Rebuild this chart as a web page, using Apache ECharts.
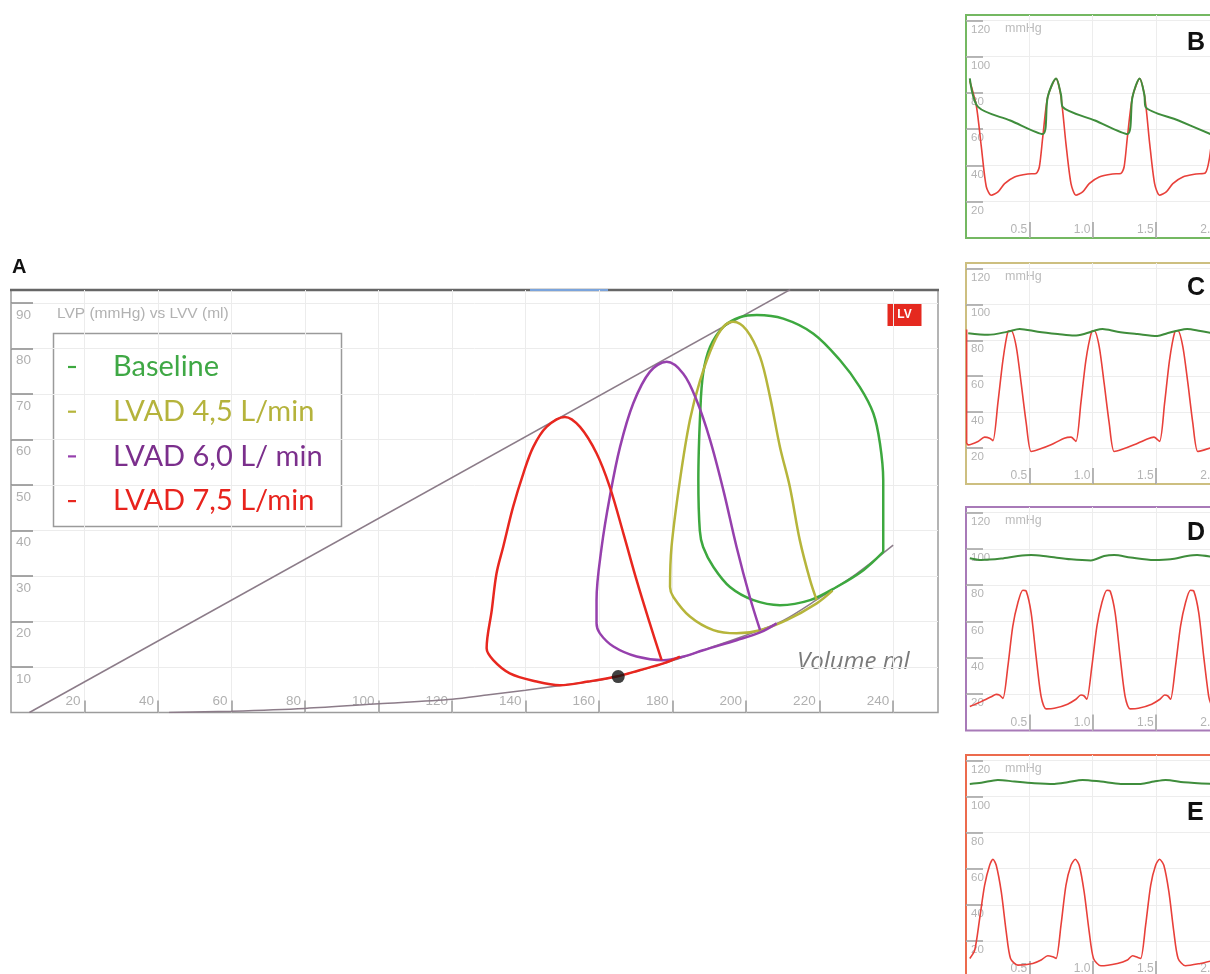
<!DOCTYPE html>
<html><head><meta charset="utf-8">
<script src="https://cdn.jsdelivr.net/npm/echarts@6/dist/echarts.min.js"></script>
<style>html,body{margin:0;padding:0;background:#fff}#c{width:1210px;height:974px}</style>
</head><body><div id="c"></div><script>
// ---------- Panel A : pressure-volume loops (volume ml, pressure mmHg) ----------
var espvr = [[5, 0], [212, 93]];
var edpvr = [[43,0],[60,0.3],[80,0.9],[100,1.9],[120,2.9],[130,3.9],[140,4.9],[150,6.0],[160,7.1],[170,9.0],[180,11.4],[190,14.2],[200,17.0],[210,20.2],[220,25.2],[230,30.5],[240,36.8]];
var loopBaseline = [[237.3,35.3],[237.3,43.8],[237.3,51.1],[236.4,59.2],[234.6,65.8],[230.9,71.6],[225.5,77.5],[218.3,83.3],[210.1,86.6],[202.9,87.4],[198.3,86.9],[193.8,84.8],[190.2,80.4],[188.3,74.5],[187.5,65.8],[187.0,51.1],[187.4,40.0],[188.3,36.4],[191.1,32.0],[195.6,27.6],[202.0,24.7],[209.2,23.6],[217.4,24.7],[224.6,27.6],[231.9,31.3],[237.3,35.3]];
var loop45 = [[219.2,24.7],[217.4,29.1],[214.6,37.9],[211.9,49.6],[209.2,58.4],[206.5,69.4],[203.8,78.2],[200.1,84.1],[196.5,85.9],[193.8,84.8],[191.1,81.1],[187.5,73.1],[184.7,64.3],[182.0,51.1],[179.7,36.4],[179.3,27.6],[180.2,25.4],[184.7,21.1],[191.1,18.1],[197.4,17.4],[203.8,18.1],[211.0,20.3],[219.2,24.0],[223.5,26.8]];
var loop60 = [[203.8,18.1],[201.0,25.4],[197.4,36.4],[193.8,48.9],[190.2,59.9],[186.5,68.7],[182.9,74.5],[178.4,77.1],[173.8,74.9],[169.3,68.0],[165.7,58.4],[162.9,47.4],[160.7,36.4],[159.3,24.7],[159.3,19.6],[160.2,17.4],[163.9,14.5],[170.2,12.3],[177.5,11.5],[183.0,12.3],[188.3,13.7],[197.4,15.9],[203.8,17.6],[208.3,19.6]];
var loop75 = [[177.0,11.5],[173.8,19.6],[170.2,29.1],[166.6,39.4],[162.9,49.6],[159.3,57.0],[154.8,62.8],[150.7,65.0],[145.7,62.8],[142.1,58.4],[139.4,52.6],[136.6,45.2],[133.9,36.4],[132.1,30.6],[130.8,22.5],[129.4,14.1],[131.2,11.5],[135.7,8.6],[143.0,6.8],[149.3,6.0],[157.0,6.8],[164.8,7.9],[171.0,9.3],[177.5,10.8],[182.0,12.3]];
var markerPoint = [[165.2, 7.9]];
var legendNames = ['Baseline', 'LVAD 4,5 L/min', 'LVAD 6,0 L/ min', 'LVAD 7,5 L/min'];
var aTitle = 'LVP (mmHg) vs LVV (ml)';

// ---------- Panels B-E : pressure traces (time s, pressure mmHg) ----------
var panelLetters = ['B', 'C', 'D', 'E'];
var bAorta = [[0.03,88.0],[0.095,72.3],[0.35,64.8],[0.607,57.3],[0.646,77.8],[0.712,88.0],[0.751,79.0],[0.764,72.3],[1.02,64.8],[1.276,57.3],[1.316,77.8],[1.373,88.0],[1.41,79.0],[1.42,72.3],[1.68,64.8],[1.932,57.3]];
var bLV = [[0.03,86.6],[0.082,72.8],[0.121,50.4],[0.16,28.4],[0.2,23.6],[0.253,25.4],[0.305,30.0],[0.384,33.7],[0.489,35.3],[0.554,35.6],[0.58,39.3],[0.607,55.8],[0.646,77.8],[0.712,88.0],[0.751,77.8],[0.79,52.1],[0.83,30.0],[0.869,23.6],[0.922,25.4],[0.974,30.0],[1.053,33.7],[1.158,35.3],[1.224,35.6],[1.25,39.3],[1.276,55.8],[1.316,77.8],[1.373,88.0],[1.413,77.8],[1.452,52.1],[1.491,30.0],[1.53,23.6],[1.583,25.4],[1.635,30.0],[1.714,33.7],[1.819,35.3],[1.892,35.9],[1.926,44.6],[1.95,60]];
var cAorta = [[0.0175,83.9],[0.174,83.0],[0.331,84.8],[0.424,86.3],[0.567,84.8],[0.725,83.5],[0.856,82.6],[0.934,83.5],[1.014,85.3],[1.079,86.3],[1.197,84.8],[1.355,83.5],[1.512,82.4],[1.591,83.9],[1.67,85.3],[1.748,86.3],[1.853,85.1],[1.932,84.2]];
var cLV = [[0.005,86],[0.005,23],[0.0175,21.8],[0.095,23.7],[0.147,26.1],[0.187,25.5],[0.213,24.1],[0.252,45.0],[0.292,69.0],[0.331,84.8],[0.357,85.3],[0.397,76.5],[0.436,56.1],[0.476,33.9],[0.515,18.1],[0.567,19.0],[0.672,21.8],[0.777,25.5],[0.83,26.1],[0.869,23.7],[0.908,45.0],[0.948,69.0],[0.993,84.8],[1.014,85.3],[1.053,76.5],[1.092,56.1],[1.132,33.9],[1.171,18.1],[1.224,19.0],[1.328,21.8],[1.433,25.1],[1.486,26.1],[1.53,23.7],[1.57,45.0],[1.609,69.0],[1.651,84.8],[1.675,85.3],[1.714,76.5],[1.754,56.1],[1.793,33.9],[1.832,18.1],[1.885,19.0],[1.932,20.0]];
var dAorta = [[0.03,94.8],[0.121,93.8],[0.279,94.6],[0.41,96.0],[0.515,96.6],[0.646,95.7],[0.83,94.2],[0.987,93.6],[1.092,96.0],[1.171,96.6],[1.302,95.2],[1.486,93.8],[1.617,94.2],[1.748,96.0],[1.827,96.6],[1.932,95.7]];
var dLV = [[0.03,13.2],[0.121,15.9],[0.2,18.6],[0.239,19.9],[0.265,19.5],[0.292,17.7],[0.331,35.3],[0.37,57.4],[0.41,70.3],[0.449,77.2],[0.476,76.7],[0.515,64.7],[0.554,40.8],[0.594,18.6],[0.633,11.9],[0.698,12.2],[0.803,14.5],[0.869,17.2],[0.908,19.5],[0.934,19.0],[0.955,17.2],[0.995,35.3],[1.035,57.4],[1.074,70.3],[1.114,77.2],[1.14,76.7],[1.179,64.7],[1.218,40.8],[1.258,18.6],[1.297,11.9],[1.363,12.2],[1.468,14.5],[1.533,17.2],[1.57,19.5],[1.596,19.0],[1.617,17.2],[1.656,35.3],[1.696,57.4],[1.735,70.3],[1.774,77.2],[1.801,76.7],[1.84,64.7],[1.879,40.8],[1.919,18.6],[1.94,14]];
var eAorta = [[0.03,107.0],[0.121,107.6],[0.252,109.2],[0.384,108.3],[0.541,107.4],[0.698,107.0],[0.803,107.9],[0.922,109.2],[1.066,108.3],[1.224,107.0],[1.381,107.0],[1.486,108.3],[1.578,109.2],[1.722,107.9],[1.932,107.0]];
var eLV = [[0.03,10.3],[0.069,14.9],[0.108,32.4],[0.147,50.8],[0.187,61.9],[0.213,65.2],[0.239,61.9],[0.279,47.1],[0.318,25.0],[0.352,10.3],[0.41,6.6],[0.528,7.5],[0.594,9.4],[0.646,11.8],[0.685,11.2],[0.712,10.3],[0.751,28.7],[0.79,50.8],[0.83,61.9],[0.864,65.2],[0.895,61.9],[0.934,47.1],[0.974,25.0],[1.008,10.3],[1.066,6.2],[1.197,7.5],[1.276,9.4],[1.316,11.8],[1.355,10.9],[1.381,10.3],[1.42,28.7],[1.46,50.8],[1.499,61.9],[1.53,65.2],[1.564,61.9],[1.604,47.1],[1.643,25.0],[1.677,10.3],[1.735,6.2],[1.853,7.5],[1.932,8.8]];
var panelAorta = [bAorta, cAorta, dAorta, eAorta];
var panelLV = [bLV, cLV, dLV, eLV];

// ---------- layout / style ----------
var loopColors = ['#3da83f', '#b6b53b', '#9640ad', '#e8271f'];
var legendColors = ['#3fa845', '#b5b33c', '#7b2f8c', '#e8231d'];
var panelBorder = ['#74b862', '#cdbf80', '#a87ab8', '#ec6b4d'];
var panelTops = [15, 263, 507, 755];
var panelHeights = [223, 221, 223.5, 222];
var tickFont = 'Liberation Sans';

var grids = [{left: 11, top: 290, width: 927, height: 422.5, show: true, borderColor: '#9c9c9c', borderWidth: 1.5, backgroundColor: '#fff', outerBoundsMode: 'none'}];
var xAxes = [{
  gridIndex: 0, type: 'value', min: 0, max: 252.2, interval: 20,
  axisLine: {show: false},
  axisTick: {inside: true, length: 12, lineStyle: {color: '#9a9a9a', width: 1.5}},
  axisLabel: {inside: true, align: 'right', margin: 4, padding: [0, 4, 0, 0], color: '#b0b0b0', fontSize: 13.5, fontFamily: tickFont, showMinLabel: false, showMaxLabel: false},
  splitLine: {show: true, showMinLine: false, showMaxLine: false, lineStyle: {color: '#ececec', width: 1}}
}];
var yAxes = [{
  gridIndex: 0, type: 'value', min: 0, max: 92.9, interval: 10,
  axisLine: {show: false},
  axisTick: {inside: true, length: 22, lineStyle: {color: '#8a8a8a', width: 1.5}},
  axisLabel: {inside: true, margin: 5, verticalAlign: 'top', padding: [5, 0, 0, 0], color: '#b0b0b0', fontSize: 13.5, fontFamily: tickFont, showMinLabel: false, showMaxLabel: false},
  splitLine: {show: true, showMinLine: false, showMaxLine: false, lineStyle: {color: '#ececec', width: 1}}
}];
var series = [
  {name: 'ESPVR', type: 'line', xAxisIndex: 0, yAxisIndex: 0, data: espvr, showSymbol: false, lineStyle: {color: '#8c7c89', width: 1.5}, silent: true},
  {name: 'EDPVR', type: 'line', xAxisIndex: 0, yAxisIndex: 0, data: edpvr, showSymbol: false, smooth: 0.3, lineStyle: {color: '#8c7c89', width: 1.5}, silent: true}
];
[loopBaseline, loop45, loop60, loop75].forEach(function (d, i) {
  series.push({name: legendNames[i], type: 'line', xAxisIndex: 0, yAxisIndex: 0, data: d, showSymbol: false, smooth: 0.35,
    itemStyle: {color: loopColors[i]}, lineStyle: {color: loopColors[i], width: 2.5}});
});
series.push({name: 'marker', type: 'scatter', xAxisIndex: 0, yAxisIndex: 0, data: markerPoint, symbolSize: 13, itemStyle: {color: '#111'}, z: 5});

for (var p = 0; p < 4; p++) {
  grids.push({left: 966, top: panelTops[p], width: 303.6, height: panelHeights[p], show: true, borderColor: panelBorder[p], borderWidth: 2, backgroundColor: '#fff', outerBoundsMode: 'none'});
  xAxes.push({
    gridIndex: p + 1, type: 'value', min: 0, max: 2.4, interval: 0.5,
    axisLine: {show: false},
    axisTick: {inside: true, length: 16, lineStyle: {color: '#a0a0a0', width: 1.5}},
    axisLabel: {inside: true, align: 'right', margin: 2, padding: [0, 2, 0, 0], color: '#b4b4b4', fontSize: 12, fontFamily: tickFont,
      formatter: function (v) { return v.toFixed(1); }, showMinLabel: false, showMaxLabel: false},
    splitLine: {show: true, showMinLine: false, showMaxLine: false, lineStyle: {color: '#ededed'}}
  });
  yAxes.push({
    gridIndex: p + 1, type: 'value', min: 0, max: 123, interval: 20,
    axisLine: {show: false},
    axisTick: {inside: true, length: 17, lineStyle: {color: '#a0a0a0', width: 1.5}},
    axisLabel: {inside: true, margin: 5, verticalAlign: 'top', padding: [3, 0, 0, 0], color: '#b4b4b4', fontSize: 11.5, fontFamily: tickFont, showMinLabel: false, showMaxLabel: false},
    splitLine: {show: true, showMinLine: false, showMaxLine: false, lineStyle: {color: '#ededed'}}
  });
  series.push({name: 'LVP ' + panelLetters[p], type: 'line', xAxisIndex: p + 1, yAxisIndex: p + 1, data: panelLV[p], showSymbol: false, smooth: 0.25,
    lineStyle: {color: '#e8403a', width: 1.6}, silent: true});
  series.push({name: 'AoP ' + panelLetters[p], type: 'line', xAxisIndex: p + 1, yAxisIndex: p + 1, data: panelAorta[p], showSymbol: false, smooth: 0.3,
    lineStyle: {color: '#3f8d3c', width: 2}, silent: true});
}

var graphics = [
  {type: 'line', shape: {x1: 10, y1: 290, x2: 939, y2: 290}, style: {stroke: '#666', lineWidth: 2.5}},
  {type: 'line', shape: {x1: 530, y1: 290, x2: 608, y2: 290}, style: {stroke: '#7ba4dc', lineWidth: 2}},
  {type: 'rect', shape: {x: 53.5, y: 333.5, width: 288, height: 193}, style: {fill: '#fff', stroke: '#9a9a9a', lineWidth: 1.5}},
  {type: 'rect', shape: {x: 887.5, y: 303, width: 34, height: 23}, style: {fill: '#e5291f'}},
  {type: 'text', x: 904.5, y: 314.5, style: {text: 'LV', fill: '#fff', font: 'bold 12px Liberation Sans', textAlign: 'center', textVerticalAlign: 'middle'}},
  {type: 'text', x: 797, y: 662, style: {text: 'Volume ml', fill: '#7a7a7a', font: 'italic 24px Open Sans', textAlign: 'left', textVerticalAlign: 'middle'}},
  {type: 'text', x: 12, y: 267, style: {text: 'A', fill: '#111', font: 'bold 20px Liberation Sans', textAlign: 'left', textVerticalAlign: 'middle'}}
];
for (var q = 0; q < 4; q++) {
  graphics.push({type: 'text', x: 1005, y: panelTops[q] + 13.5, style: {text: 'mmHg', fill: '#bcbcbc', font: '12.5px Liberation Sans', textAlign: 'left', textVerticalAlign: 'middle'}});
}
var letterY = [43, 288, 533, 813];
for (var r = 0; r < 4; r++) {
  graphics.push({type: 'text', x: 1187, y: letterY[r], style: {text: panelLetters[r], fill: '#111', font: 'bold 25px Liberation Sans', textAlign: 'left', textVerticalAlign: 'middle'}});
}

var chart = echarts.init(document.getElementById('c'), null, {renderer: 'canvas'});
chart.setOption({
  backgroundColor: '#fff',
  animation: false,
  title: {text: aTitle, left: 52, top: 301, textStyle: {color: '#b2b2b2', fontSize: 15.5, fontWeight: 'normal', fontFamily: tickFont}},
  legend: {
    data: legendNames.map(function (n, i) { return {name: n, textStyle: {color: legendColors[i]}}; }),
    orient: 'vertical', left: 63, top: 347, icon: 'rect', itemWidth: 8, itemHeight: 2.2, itemGap: 14.7,
    selectedMode: false, z: 6,
    textStyle: {fontFamily: 'Lato', fontSize: 29, lineHeight: 30, padding: [0, 0, 0, 32]}
  },
  graphic: {z: 3, elements: graphics},
  grid: grids, xAxis: xAxes, yAxis: yAxes, series: series
});
</script></body></html>
